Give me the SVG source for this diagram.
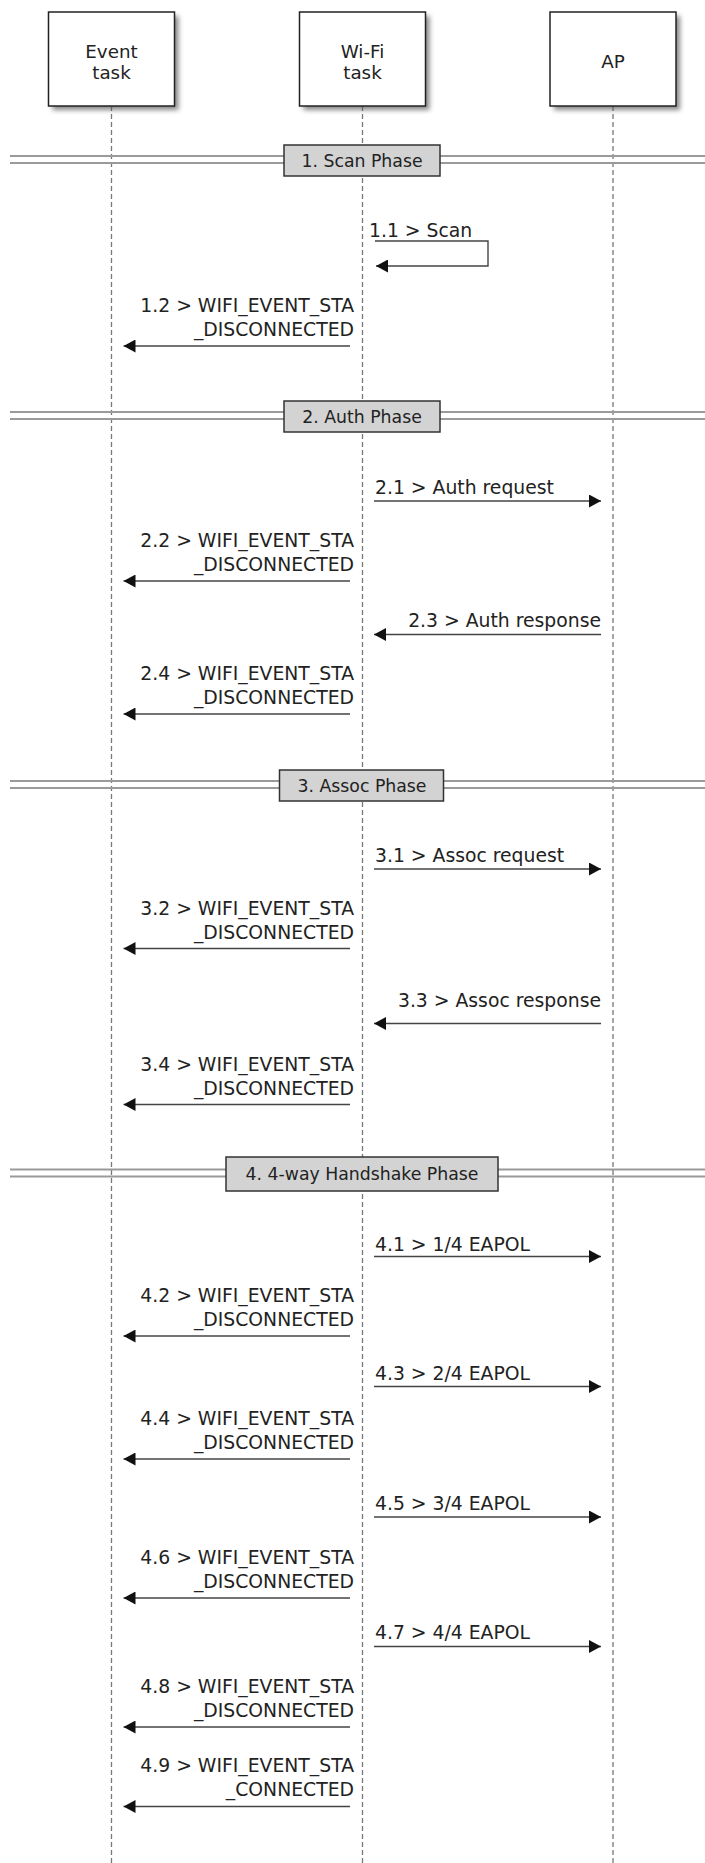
<svg xmlns="http://www.w3.org/2000/svg" width="705" height="1863" viewBox="0 0 705 1863">
<style>
text{font-family:"DejaVu Sans","Liberation Sans",sans-serif;fill:#222;font-size:18.8px}
.node{fill:#fff;stroke:#222;stroke-width:1.5}
.shadow{fill:#555;opacity:.7}
.life{stroke:#777;stroke-width:1.3;stroke-dasharray:5 3;fill:none}
.band{stroke:#9a9a9a;stroke-width:1.8}
.phase{fill:#d3d3d3;stroke:#333;stroke-width:1.5}
.ptext{font-size:17.3px;text-anchor:middle}
.msg{stroke:#444;stroke-width:1.4;fill:none;marker-end:url(#ah)}
.c{text-anchor:middle;font-size:18.3px}
.e{text-anchor:end}
</style>
<defs>
<filter id="blur" x="-20%" y="-20%" width="140%" height="140%"><feGaussianBlur stdDeviation="2.5"/></filter>
<marker id="ah" viewBox="0 0 12 13" refX="12" refY="6.5" markerWidth="12" markerHeight="13" markerUnits="userSpaceOnUse" orient="auto"><path d="M0,0 L12,6.5 L0,13 Z" fill="#111"/></marker>
</defs>
<rect width="705" height="1863" fill="#fff"/>
<g id="lifelines">
<line class="life" x1="111.5" y1="106" x2="111.5" y2="1863"/>
<line class="life" x1="362.5" y1="106" x2="362.5" y2="1863"/>
<line class="life" x1="613" y1="106" x2="613" y2="1863"/>
</g>
<g id="phase1">
<line class="band" x1="10" y1="156" x2="705" y2="156"/><line class="band" x1="10" y1="163" x2="705" y2="163"/>
<rect class="phase" x="284" y="145" width="156" height="31"/>
<text class="ptext" x="362" y="167">1. Scan Phase</text>
</g>
<g id="phase2">
<line class="band" x1="10" y1="412" x2="705" y2="412"/><line class="band" x1="10" y1="419" x2="705" y2="419"/>
<rect class="phase" x="284" y="401" width="156" height="31"/>
<text class="ptext" x="362" y="423">2. Auth Phase</text>
</g>
<g id="phase3">
<line class="band" x1="10" y1="781" x2="705" y2="781"/><line class="band" x1="10" y1="788" x2="705" y2="788"/>
<rect class="phase" x="279.5" y="770" width="164" height="31"/>
<text class="ptext" x="362" y="792">3. Assoc Phase</text>
</g>
<g id="phase4">
<line class="band" x1="10" y1="1169.5" x2="705" y2="1169.5"/><line class="band" x1="10" y1="1176.5" x2="705" y2="1176.5"/>
<rect class="phase" x="226" y="1157" width="272" height="34"/>
<text class="ptext" x="362" y="1180">4. 4-way Handshake Phase</text>
</g>
<g id="connectors">
<path class="msg" d="M375,241 H488 V266 H376"/>
<line class="msg" x1="350" y1="346" x2="123.5" y2="346"/>
<line class="msg" x1="374" y1="501" x2="601" y2="501"/>
<line class="msg" x1="350" y1="581" x2="123.5" y2="581"/>
<line class="msg" x1="601" y1="634.5" x2="374" y2="634.5"/>
<line class="msg" x1="350" y1="714" x2="123.5" y2="714"/>
<line class="msg" x1="374" y1="869" x2="601" y2="869"/>
<line class="msg" x1="350" y1="948.5" x2="123.5" y2="948.5"/>
<line class="msg" x1="601" y1="1023.5" x2="374" y2="1023.5"/>
<line class="msg" x1="350" y1="1104.5" x2="123.5" y2="1104.5"/>
<line class="msg" x1="374" y1="1256.5" x2="601" y2="1256.5"/>
<line class="msg" x1="350" y1="1336" x2="123.5" y2="1336"/>
<line class="msg" x1="374" y1="1386.5" x2="601" y2="1386.5"/>
<line class="msg" x1="350" y1="1459" x2="123.5" y2="1459"/>
<line class="msg" x1="374" y1="1517" x2="601" y2="1517"/>
<line class="msg" x1="350" y1="1598" x2="123.5" y2="1598"/>
<line class="msg" x1="374" y1="1646.5" x2="601" y2="1646.5"/>
<line class="msg" x1="350" y1="1727" x2="123.5" y2="1727"/>
<line class="msg" x1="350" y1="1806.5" x2="123.5" y2="1806.5"/>
</g>
<g id="labels">
<text x="369" y="237">1.1 &gt; Scan</text>
<text class="e" x="354" y="312">1.2 &gt; WIFI_EVENT_STA</text><text class="e" x="354" y="336">_DISCONNECTED</text>
<text x="375" y="494">2.1 &gt; Auth request</text>
<text class="e" x="354" y="547">2.2 &gt; WIFI_EVENT_STA</text><text class="e" x="354" y="571">_DISCONNECTED</text>
<text class="e" x="601" y="627">2.3 &gt; Auth response</text>
<text class="e" x="354" y="680">2.4 &gt; WIFI_EVENT_STA</text><text class="e" x="354" y="704">_DISCONNECTED</text>
<text x="375" y="862">3.1 &gt; Assoc request</text>
<text class="e" x="354" y="915">3.2 &gt; WIFI_EVENT_STA</text><text class="e" x="354" y="939">_DISCONNECTED</text>
<text class="e" x="601" y="1007">3.3 &gt; Assoc response</text>
<text class="e" x="354" y="1071">3.4 &gt; WIFI_EVENT_STA</text><text class="e" x="354" y="1095">_DISCONNECTED</text>
<text x="375" y="1251">4.1 &gt; 1/4 EAPOL</text>
<text class="e" x="354" y="1302">4.2 &gt; WIFI_EVENT_STA</text><text class="e" x="354" y="1326">_DISCONNECTED</text>
<text x="375" y="1380">4.3 &gt; 2/4 EAPOL</text>
<text class="e" x="354" y="1425">4.4 &gt; WIFI_EVENT_STA</text><text class="e" x="354" y="1449">_DISCONNECTED</text>
<text x="375" y="1510">4.5 &gt; 3/4 EAPOL</text>
<text class="e" x="354" y="1564">4.6 &gt; WIFI_EVENT_STA</text><text class="e" x="354" y="1588">_DISCONNECTED</text>
<text x="375" y="1639">4.7 &gt; 4/4 EAPOL</text>
<text class="e" x="354" y="1693">4.8 &gt; WIFI_EVENT_STA</text><text class="e" x="354" y="1717">_DISCONNECTED</text>
<text class="e" x="354" y="1772">4.9 &gt; WIFI_EVENT_STA</text><text class="e" x="354" y="1796">_CONNECTED</text>
</g>
<g id="node-event">
<rect class="shadow" x="52.5" y="16" width="126" height="94" filter="url(#blur)"/>
<rect class="node" x="48.5" y="12" width="126" height="94"/>
<text class="c" x="111.5" y="58">Event</text><text class="c" x="111.5" y="79">task</text>
</g>
<g id="node-wifi">
<rect class="shadow" x="303.5" y="16" width="126" height="94" filter="url(#blur)"/>
<rect class="node" x="299.5" y="12" width="126" height="94"/>
<text class="c" x="362.5" y="58">Wi-Fi</text><text class="c" x="362.5" y="79">task</text>
</g>
<g id="node-ap">
<rect class="shadow" x="554" y="16" width="126" height="94" filter="url(#blur)"/>
<rect class="node" x="550" y="12" width="126" height="94"/>
<text class="c" x="613" y="68">AP</text>
</g>
</svg>
